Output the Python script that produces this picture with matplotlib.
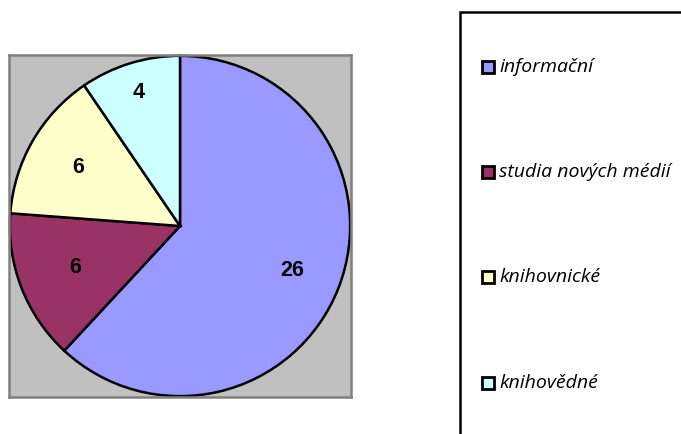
import matplotlib
matplotlib.use("Agg")
import matplotlib.pyplot as plt
import numpy as np
from matplotlib.patches import Rectangle

labels = ["informační", "studia nových médií", "knihovnické", "knihovědné"]
values = [26, 6, 6, 4]
colors = ["#9999FF", "#993366", "#FFFFCC", "#CCFFFF"]
label_dist = [0.71, 0.66, 0.69, 0.82]
legend_y = [67, 172, 277, 383]  # pixel rows of legend entries

W, H = 681, 434
fig = plt.figure(figsize=(W / 100, H / 100), dpi=100)

# grey plot area
ax = fig.add_axes([9 / W, (H - 397) / H, 342 / W, 342 / H])
wedges, _ = ax.pie(values, colors=colors, startangle=90, counterclock=False,
                   radius=1.0, wedgeprops=dict(edgecolor="black", linewidth=1.8))
ax.set_axis_on()
ax.set_frame_on(True)
ax.set_facecolor("#C0C0C0")
for s in ax.spines.values():
    s.set_color("#808080")
    s.set_linewidth(1.8)
ax.set_xticks([])
ax.set_yticks([])
ax.set_xlim(-1.005, 1.005)
ax.set_ylim(-1.005, 1.005)
ax.set_aspect("equal")

for w, v, d in zip(wedges, values, label_dist):
    ang = np.deg2rad((w.theta1 + w.theta2) / 2)
    ax.text(d * np.cos(ang), d * np.sin(ang), str(v), ha="center", va="center",
            fontsize=15.5, fontweight="bold", family="Liberation Sans")

# legend box (clipped at right and bottom)
fig.patches.append(Rectangle((460 / W, -0.05), 0.5, (H - 12) / H + 0.05,
                             transform=fig.transFigure, facecolor="white",
                             edgecolor="black", linewidth=1.8, clip_on=False))

for lab, c, y in zip(labels, colors, legend_y):
    yf = (H - y) / H
    fig.patches.append(Rectangle((482 / W, yf - 6 / H), 12 / W, 12 / H,
                                 transform=fig.transFigure, facecolor=c,
                                 edgecolor="black", linewidth=2))
    fig.text(499 / W, yf, lab, ha="left", va="center", fontsize=14,
             style="italic", family=["Open Sans", "DejaVu Sans"])

fig.savefig("out.png", dpi=100)
